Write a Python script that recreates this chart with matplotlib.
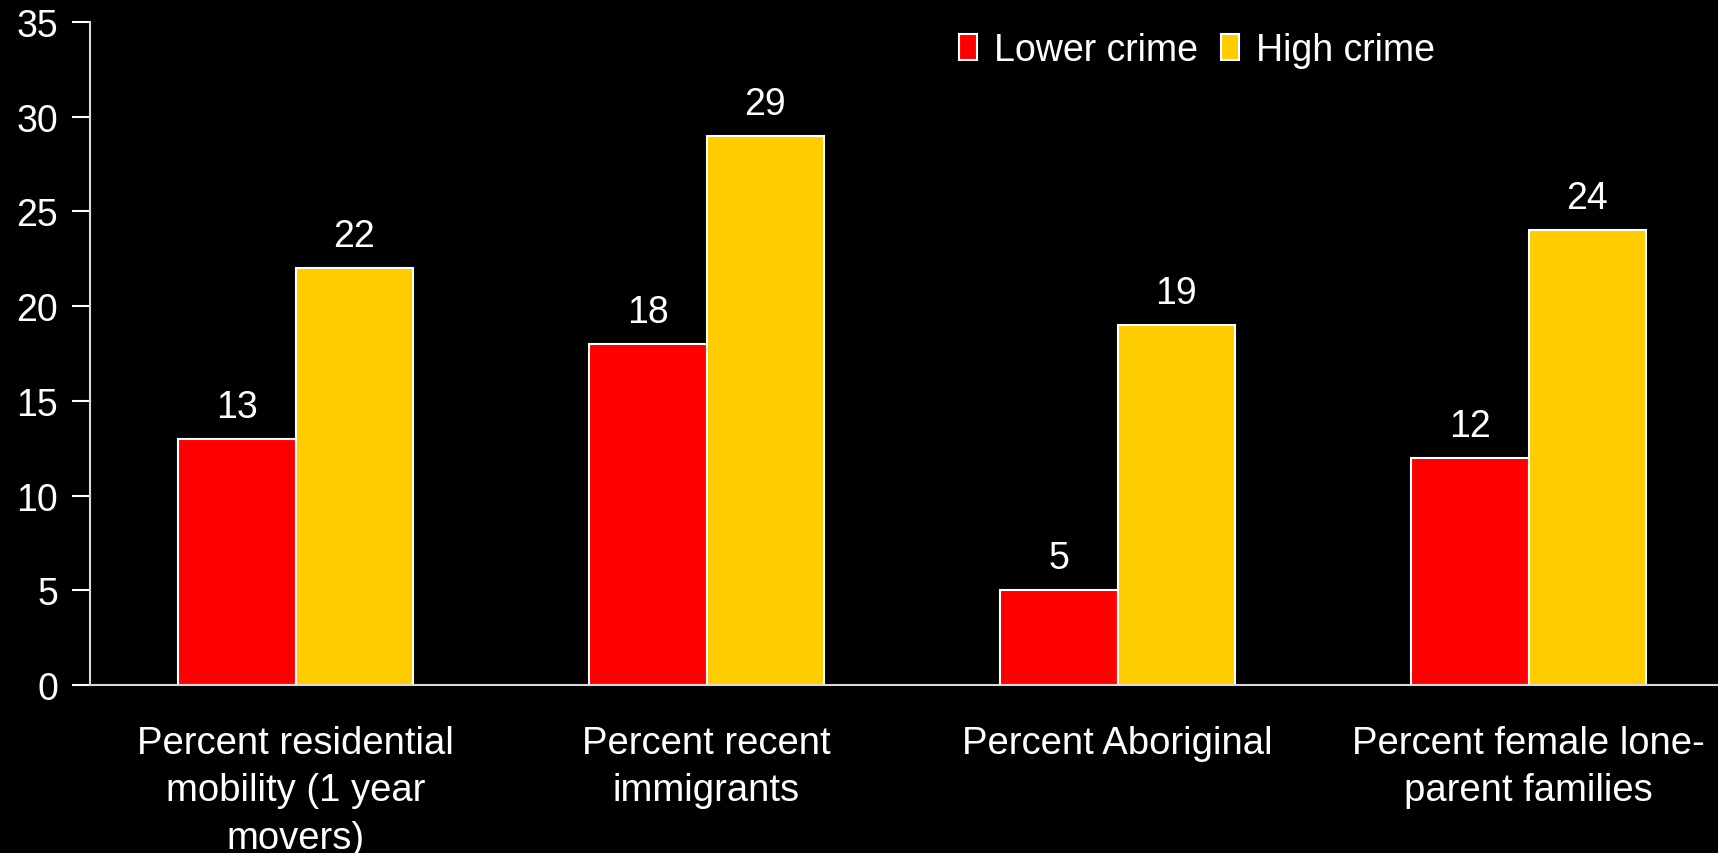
import matplotlib
matplotlib.use("Agg")
import matplotlib.pyplot as plt
import numpy as np

categories = ["Percent residential\nmobility (1 year\nmovers)",
              "Percent recent\nimmigrants",
              "Percent Aboriginal",
              "Percent female lone-\nparent families"]
lower_crime = [13, 18, 5, 12]
high_crime = [22, 29, 19, 24]
series_names = ["Lower crime", "High crime"]
y_ticks = [0, 5, 10, 15, 20, 25, 30, 35]

plt.rcParams['font.family'] = ['Liberation Sans', 'DejaVu Sans']

W, H = 1718, 854
fig = plt.figure(figsize=(W / 100, H / 100), dpi=100, facecolor='black')
left, right, bottom, top = 90, 1734, 686, 23
ax = fig.add_axes([left / W, (H - bottom) / H, (right - left) / W, (bottom - top) / H])
ax.set_facecolor('black')

x = np.arange(len(categories))
w = 1 / 3.5
b1 = ax.bar(x - w / 2, lower_crime, w, color='#FF0000', edgecolor='white', linewidth=1.5, label=series_names[0])
b2 = ax.bar(x + w / 2, high_crime, w, color='#FFCC00', edgecolor='white', linewidth=1.5, label=series_names[1])

for bars in (b1, b2):
    ax.bar_label(bars, padding=10, color='white', fontsize=27)

ax.set_xlim(-0.5, 3.5)
ax.set_ylim(0, 35)
ax.set_yticks(y_ticks)
ax.set_xticks(x)
ax.set_xticklabels(categories, fontsize=27.5, color='white', linespacing=1.4)
ax.tick_params(axis='x', length=0, pad=29)
ax.tick_params(axis='y', colors='white', labelsize=27, length=13, width=1.5, direction='out', pad=10)

for s in ['top', 'right']:
    ax.spines[s].set_visible(False)
for s in ['left', 'bottom']:
    ax.spines[s].set_color('#D9D9D9')
    ax.spines[s].set_linewidth(1.5)

leg = fig.legend(loc='upper left', bbox_to_anchor=(959 / W, 1 - 33 / H), ncol=2, frameon=False,
                 fontsize=27, handlelength=0.48, handleheight=0.67, handletextpad=0.45,
                 columnspacing=0.62, borderpad=0, borderaxespad=0)
for t in leg.get_texts():
    t.set_color('white')
for p in leg.get_patches():
    p.set_edgecolor('white')
    p.set_linewidth(1.5)

fig.savefig('out.png', dpi=100, facecolor='black')
